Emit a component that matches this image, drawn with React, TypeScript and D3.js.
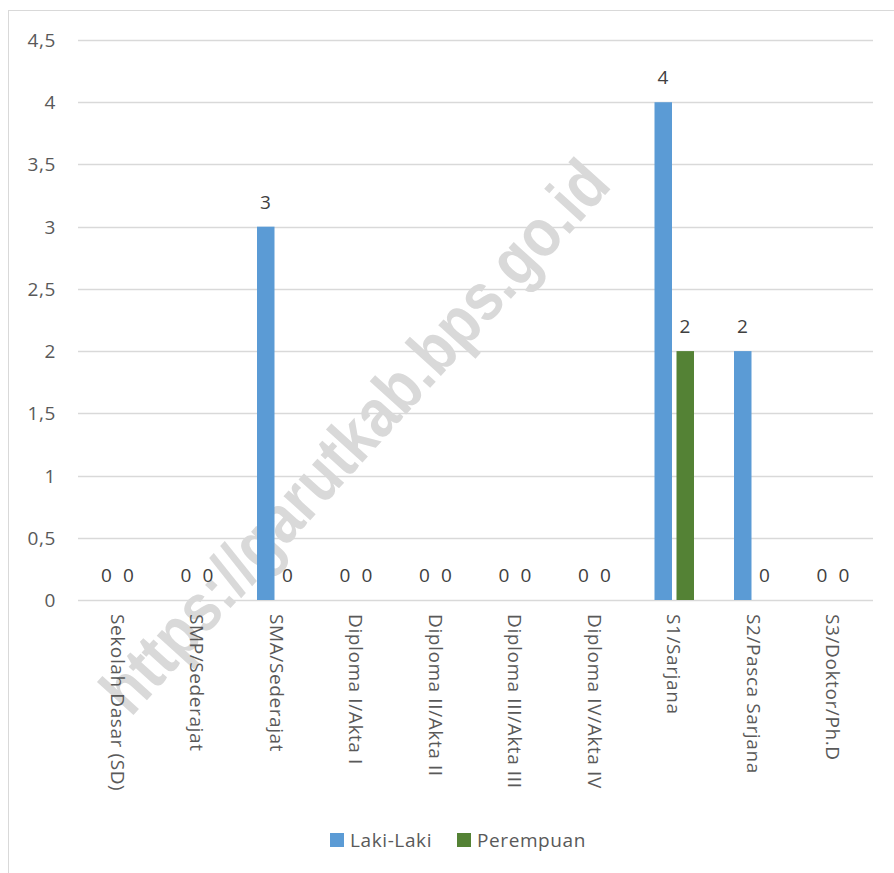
import * as d3 from "d3";

const categories = [
  "Sekolah Dasar (SD)",
  "SMP/Sederajat",
  "SMA/Sederajat",
  "Diploma I/Akta I",
  "Diploma II/Akta II",
  "Diploma III/Akta III",
  "Diploma IV/Akta IV",
  "S1/Sarjana",
  "S2/Pasca Sarjana",
  "S3/Doktor/Ph.D",
];
const seriesNames = ["Laki-Laki", "Perempuan"];
const lakiLaki = [0, 0, 3, 0, 0, 0, 0, 4, 2, 0];
const perempuan = [0, 0, 0, 0, 0, 0, 0, 2, 0, 0];
const yTicks = [0, 0.5, 1, 1.5, 2, 2.5, 3, 3.5, 4, 4.5];
const colors = ["#5B9BD5", "#548235"];

const W = 894;
const H = 873;
const font = "'Open Sans', 'Liberation Sans', sans-serif";
const textColor = "#595959";
const fs = 19;
const ls = 0.6;

function App() {
  const margin = { left: 78, right: 21, top: 40, bottom: 273 };
  const x = d3
    .scaleBand()
    .domain(categories)
    .range([margin.left, W - margin.right])
    .padding(0);
  const step = x.bandwidth();
  const inner = d3
    .scaleBand()
    .domain(seriesNames)
    .range([20, step - 20])
    .paddingInner(0.205)
    .paddingOuter(0);
  const y = d3.scaleLinear().domain([0, 4.5]).range([H - margin.bottom, margin.top]);
  const fmt = (v: number) => String(v).replace(".", ",");
  const series = [lakiLaki, perempuan];

  return (
    <svg
      width={W}
      height={H}
      style={{ position: "absolute", left: 0, top: 0, background: "#fff" }}
      fontFamily={font}
      letterSpacing={ls}
    >
      <rect x={8.5} y={10.5} width={W + 20} height={H + 20} fill="#fff" stroke="#d9d9d9" />

      {/* watermark */}
      <text
        transform="translate(354,436) rotate(-47.8)"
        textAnchor="middle"
        dominantBaseline="central"
        fontFamily="'Liberation Sans', Arial, sans-serif"
        fontWeight="bold"
        fontSize={68}
        letterSpacing={0}
        fill="#d9d9d9"
        textLength={718}
        lengthAdjust="spacingAndGlyphs"
      >
        https://garutkab.bps.go.id
      </text>

      {/* gridlines */}
      <g>
        {yTicks.map((t) => (
          <line
            key={t}
            x1={margin.left}
            x2={W - margin.right}
            y1={Math.round(y(t)) + 0.5}
            y2={Math.round(y(t)) + 0.5}
            stroke="#d9d9d9"
            strokeWidth={1.3}
          />
        ))}
      </g>

      {/* y tick labels */}
      <g fontSize={fs} fill={textColor} textAnchor="end">
        {yTicks.map((t) => (
          <text key={t} x={56} y={y(t)} dominantBaseline="central">
            {fmt(t)}
          </text>
        ))}
      </g>

      {/* bars */}
      {series.map((vals, si) => (
        <g key={seriesNames[si]} fill={colors[si]}>
          {categories.map((c, ci) => (
            <rect
              key={c}
              x={(x(c) as number) + (inner(seriesNames[si]) as number)}
              y={y(vals[ci])}
              width={inner.bandwidth()}
              height={y(0) - y(vals[ci])}
            />
          ))}
        </g>
      ))}

      {/* data labels */}
      {series.map((vals, si) => (
        <g key={"l" + si} fontSize={fs} fill="#404040" textAnchor="middle">
          {categories.map((c, ci) => (
            <text
              key={c}
              x={(x(c) as number) + (inner(seriesNames[si]) as number) + inner.bandwidth() / 2}
              y={y(vals[ci]) - 18}
            >
              {vals[ci]}
            </text>
          ))}
        </g>
      ))}

      {/* category labels */}
      <g fontSize={fs} fill={textColor}>
        {categories.map((c) => (
          <text
            key={c}
            transform={`translate(${(x(c) as number) + step / 2},${y(0) + 14}) rotate(90)`}
            dominantBaseline="central"
          >
            {c}
          </text>
        ))}
      </g>

      {/* legend */}
      <g fontSize={fs} fill={textColor}>
        <rect x={330} y={833} width={14} height={14} fill={colors[0]} />
        <text x={350} y={840} dominantBaseline="central">{seriesNames[0]}</text>
        <rect x={457} y={833} width={14} height={14} fill={colors[1]} />
        <text x={477} y={840} dominantBaseline="central">{seriesNames[1]}</text>
      </g>
    </svg>
  );
}

export default App;
